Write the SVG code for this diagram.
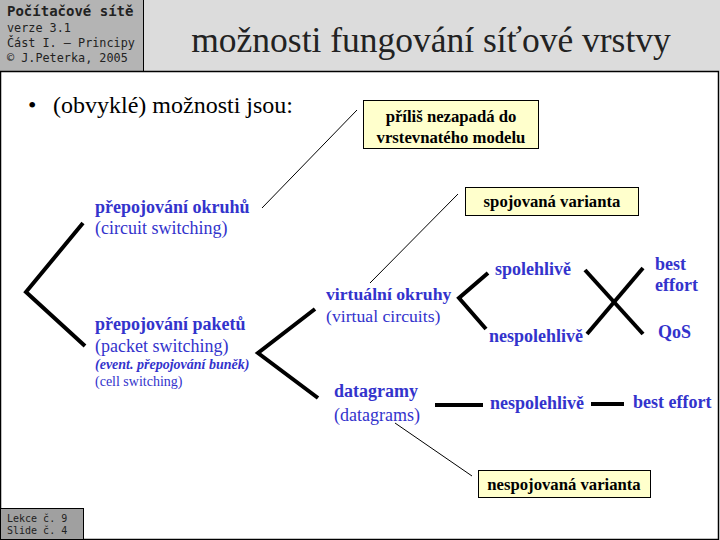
<svg xmlns="http://www.w3.org/2000/svg" width="720" height="540" viewBox="0 0 720 540">
<style>
.mono{font-family:"DejaVu Sans Mono","Liberation Mono",monospace;fill:#222}
.serif{font-family:"Liberation Serif","Times New Roman",serif}
.blue{fill:#3333cc}
.b{font-weight:bold}
.note{font-family:"Liberation Serif","Times New Roman",serif;font-weight:bold;font-size:16.7px;fill:#000;text-anchor:middle}
.box{fill:#ffffcc;stroke:#000;stroke-width:1}
.thick{stroke:#000;stroke-width:4;fill:none;stroke-linecap:butt;stroke-linejoin:miter}
.thin{stroke:#000;stroke-width:1;fill:none}
</style>
<rect x="0" y="0" width="720" height="540" fill="#fff"/>
<g id="header">
<rect x="0" y="0" width="143" height="71" fill="#b4b4b4"/>
<rect x="143" y="0" width="577" height="71" fill="#dcdcdc"/>
<line x1="143.5" y1="0" x2="143.5" y2="71" stroke="#000"/>
<text class="mono b" x="7" y="16" font-size="14">Počítačové sítě</text>
<text class="mono" x="7" y="32" font-size="11.8">verze 3.1</text>
<text class="mono" x="7" y="47" font-size="11.8">Část I. – Principy</text>
<text class="mono" x="7" y="62" font-size="11.8">© J.Peterka, 2005</text>
<text class="serif" x="431" y="52" font-size="35.5" text-anchor="middle" fill="#222">možnosti fungování síťové vrstvy</text>
</g>
<rect x="0.5" y="71.5" width="718" height="468" fill="#fff" stroke="#000" stroke-width="1.5"/>
<g id="footer">
<rect x="0.5" y="508.5" width="83" height="31" fill="#a0a0a0" stroke="#000"/>
<text class="mono" x="7" y="522" font-size="10">Lekce č. 9</text>
<text class="mono" x="7" y="534" font-size="10">Slide č. 4</text>
</g>
<g id="bullet">
<text class="serif" x="28" y="113" font-size="24" fill="#000">•</text>
<text class="serif" x="53" y="113" font-size="24" fill="#000">(obvyklé) možnosti jsou:</text>
</g>
<g id="connectors">
<polyline class="thick" points="83,223 26,292 85,346"/>
<polyline class="thick" points="315,309 258,353 318,398"/>
<polyline class="thick" points="488,273 459,298 486,329"/>
<line class="thick" x1="585" y1="270" x2="643" y2="334"/>
<line class="thick" x1="587" y1="334" x2="643" y2="268"/>
<line class="thick" x1="435" y1="405" x2="483" y2="405"/>
<line class="thick" x1="591" y1="404" x2="624" y2="404"/>
<line class="thin" x1="262" y1="208" x2="357" y2="110"/>
<line class="thin" x1="370" y1="283" x2="458" y2="194"/>
<line class="thin" x1="395" y1="423" x2="472" y2="476"/>
</g>
<g id="note1">
<rect class="box" x="363.5" y="100.5" width="175" height="48"/>
<text class="note" x="451" y="122">příliš nezapadá do</text>
<text class="note" x="451" y="143">vrstevnatého modelu</text>
</g>
<g id="note2">
<rect class="box" x="465.5" y="187.5" width="173" height="28"/>
<text class="note" x="552" y="207">spojovaná varianta</text>
</g>
<g id="note3">
<rect class="box" x="478.5" y="470.5" width="172" height="27"/>
<text class="note" x="564" y="490">nespojovaná varianta</text>
</g>
<g id="circuit">
<text class="serif blue b" x="95" y="213" font-size="18">přepojování okruhů</text>
<text class="serif blue" x="95" y="234" font-size="18">(circuit switching)</text>
</g>
<g id="packet">
<text class="serif blue b" x="95" y="330" font-size="18">přepojování paketů</text>
<text class="serif blue" x="95" y="352" font-size="18">(packet switching)</text>
<text class="serif blue b" x="95" y="369" font-size="14" font-style="italic">(event. přepojování buněk)</text>
<text class="serif blue" x="95" y="386" font-size="14">(cell switching)</text>
</g>
<g id="virtual">
<text class="serif blue b" x="326" y="300" font-size="17.7">virtuální okruhy</text>
<text class="serif blue" x="326" y="322" font-size="17.7">(virtual circuits)</text>
</g>
<g id="datagram">
<text class="serif blue b" x="334" y="397" font-size="18">datagramy</text>
<text class="serif blue" x="334" y="421" font-size="18">(datagrams)</text>
</g>
<g id="vc-reliable"><text class="serif blue b" x="495" y="275" font-size="18">spolehlivě</text></g>
<g id="vc-unreliable"><text class="serif blue b" x="489" y="342" font-size="18">nespolehlivě</text></g>
<g id="best1"><text class="serif blue b" x="655" y="270" font-size="18">best</text><text class="serif blue b" x="655" y="291" font-size="18">effort</text></g>
<g id="qos"><text class="serif blue b" x="658" y="338" font-size="18">QoS</text></g>
<g id="dg-unreliable"><text class="serif blue b" x="490" y="409" font-size="18">nespolehlivě</text></g>
<g id="best2"><text class="serif blue b" x="633" y="408" font-size="18">best effort</text></g>
</svg>
